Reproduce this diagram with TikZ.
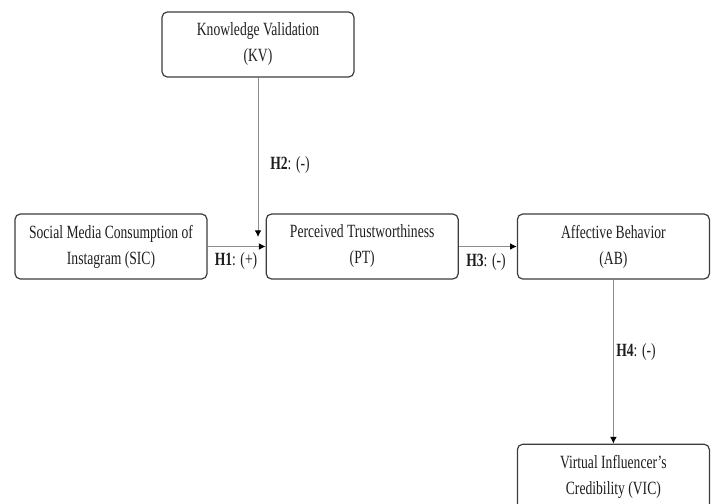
\documentclass[tikz,border=0pt]{standalone}
\usepackage{fontspec}
\setmainfont{Liberation Serif}[FakeStretch=0.73]
\usepackage{tikz}
\usetikzlibrary{arrows.meta,positioning}
\definecolor{boxgray}{HTML}{3C3C3C}
\definecolor{linkgray}{HTML}{8C8C8C}
\definecolor{textgray}{HTML}{1E1E1E}

\begin{document}
\begin{tikzpicture}[x=0.75pt,y=-0.75pt,
	box/.style={shape=rectangle, rounded corners=4pt, draw=boxgray, line width=0.9pt, minimum width=144pt, minimum height=48.75pt, align=center, text=textgray, font=\fontsize{14}{19.5}\selectfont},
	link/.style={draw=linkgray, line width=0.7pt, -{Latex[length=5pt,width=5pt,color=black]}},
	hyp/.style={text=textgray, font=\fontsize{14}{19.5}\selectfont}]
\useasboundingbox (0,0) rectangle (715,504);
\node [box] (kv) at (258,44.5){Knowledge Validation\\(KV)};
\node [box] (sic) at (111,246.5){Social Media Consumption of\\Instagram (SIC)};
\node [box, right=43.5pt of sic] (pt){Perceived Trustworthiness\\(PT)};
\node [box, right=43.5pt of pt] (ab){Affective Behavior\\(AB)};
\node [box, below=123pt of ab] (vic){Virtual Influencer’s\\Credibility (VIC)};
\coordinate (kvend) at (258,237);

\draw [link] (sic) -- (pt);
\draw [link] (pt) -- (ab);
\draw [link] (ab) -- (vic);
\draw [link] (kv) -- (kvend);

\node [hyp] (h1) at (236,261){\textbf{H1}: (+)};
\node [hyp] (h2) at (290,165){\textbf{H2}: (-)};
\node [hyp] (h3) at (486,262){\textbf{H3}: (-)};
\node [hyp] (h4) at (636,352){\textbf{H4}: (-)};
\end{tikzpicture}
\end{document}
